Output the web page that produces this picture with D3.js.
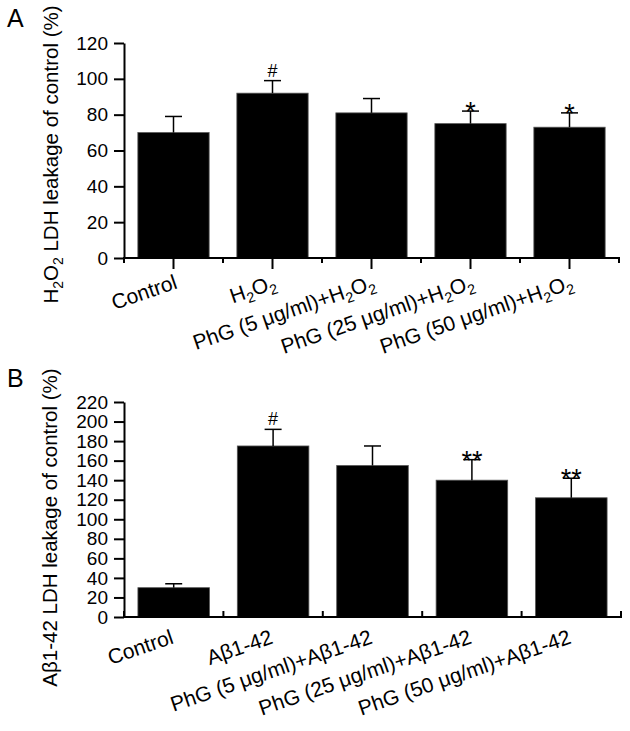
<!DOCTYPE html>
<html>
<head>
<meta charset="utf-8">
<script src="https://cdn.jsdelivr.net/npm/d3@7"></script>
<style>
  html, body { margin: 0; padding: 0; background: #fff; }
  svg { display: block; font-family: "Liberation Sans", Arial, sans-serif; }
</style>
</head>
<body>
<svg id="chart" width="630" height="731"></svg>
<script>
// ---------- Data ----------
const categoriesA = ["Control", "H_2O_2", "PhG (5 μg/ml)+H_2O_2", "PhG (25 μg/ml)+H_2O_2", "PhG (50 μg/ml)+H_2O_2"];
const meansA = [70, 92, 81, 75, 73];
const errTopA = [79, 99, 89, 82, 81];
const sigA = ["", "#", "", "*", "*"];
const ticksA = [0, 20, 40, 60, 80, 100, 120];
const titleA = "H_2O_2 LDH leakage of control (%)";

const categoriesB = ["Control", "Aβ1-42", "PhG (5 μg/ml)+Aβ1-42", "PhG (25 μg/ml)+Aβ1-42", "PhG (50 μg/ml)+Aβ1-42"];
const meansB = [30, 175, 155, 140, 122];
const errTopB = [34, 192, 175, 161, 142];
const sigB = ["", "#", "", "**", "**"];
const ticksB = [0, 20, 40, 60, 80, 100, 120, 140, 160, 180, 200, 220];
const titleB = "Aβ1-42 LDH leakage of control (%)";

const FONT = "Liberation Sans, Arial, sans-serif";
const svg = d3.select("#chart");

// rich text helper: "_2" -> subscript 2
function richText(textSel, str, subShift) {
  const parts = str.split(/(_\d)/).filter(s => s.length);
  let shifted = false;
  parts.forEach(p => {
    if (p.startsWith("_")) {
      textSel.append("tspan").attr("font-size", "68%").attr("dy", shifted ? 0 : subShift).text(p.slice(1));
      shifted = true;
    } else {
      textSel.append("tspan").attr("dy", shifted ? -subShift : 0).text(p);
      shifted = false;
    }
  });
}

function panel(cfg) {
  const g = svg.append("g").attr("font-family", FONT);
  const x = d3.scaleBand().domain(cfg.categories).range([124, cfg.xEnd]).paddingInner(0.28).paddingOuter(0.14);
  const y = d3.scaleLinear().domain([0, cfg.max]).range([cfg.y0, cfg.yTop]);

  // bars
  g.selectAll("rect.bar").data(cfg.means).join("rect")
    .attr("class", "bar")
    .attr("x", (d, i) => x(cfg.categories[i]))
    .attr("width", x.bandwidth())
    .attr("y", d => y(d))
    .attr("height", d => y(0) - y(d))
    .attr("fill", "#000")
    .attr("stroke", "#555").attr("stroke-width", 0.8);

  // error bars (upper)
  const cx = i => x(cfg.categories[i]) + x.bandwidth() / 2;
  g.selectAll("line.err").data(cfg.errTop).join("line")
    .attr("x1", (d, i) => cx(i)).attr("x2", (d, i) => cx(i))
    .attr("y1", (d, i) => y(cfg.means[i])).attr("y2", d => y(d))
    .attr("stroke", "#000").attr("stroke-width", 1.5);
  g.selectAll("line.cap").data(cfg.errTop).join("line")
    .attr("x1", (d, i) => cx(i) - 8.5).attr("x2", (d, i) => cx(i) + 8.5)
    .attr("y1", d => y(d)).attr("y2", d => y(d))
    .attr("stroke", "#000").attr("stroke-width", 1.5);

  // significance marks
  g.selectAll("text.sig").data(cfg.sig).join("text")
    .attr("x", (d, i) => cx(i))
    .attr("y", (d, i) => d === "#" ? y(cfg.errTop[i]) - 4 : y(cfg.errTop[i]) + 10)
    .attr("text-anchor", "middle")
    .attr("font-size", d => d === "#" ? 18 : 27)
    .text(d => d);

  // y axis
  const yAxis = d3.axisLeft(y).tickValues(cfg.ticks).tickSize(10).tickSizeOuter(0).tickPadding(6);
  const ya = g.append("g").attr("transform", "translate(124,0)").call(yAxis);
  ya.select(".domain").attr("stroke-width", 2);
  ya.selectAll(".tick line").attr("stroke-width", 2);
  ya.selectAll(".tick text").attr("font-size", 19).attr("font-family", FONT).attr("fill", "#000");

  // x axis line
  g.append("line").attr("x1", 123).attr("x2", cfg.xEnd + 1).attr("y1", y(0)).attr("y2", y(0))
    .attr("stroke", "#000").attr("stroke-width", 2);
  // boundary ticks
  const bounds = cfg.categories.map(c => x(c) - x.step() * 0.14).concat([cfg.xEnd]);
  g.selectAll("line.btick").data(bounds).join("line")
    .attr("x1", d => d).attr("x2", d => d)
    .attr("y1", y(0)).attr("y2", y(0) + cfg.boundTick)
    .attr("stroke", "#000").attr("stroke-width", 2);
  if (cfg.centerTick) {
    g.selectAll("line.ctick").data(cfg.categories).join("line")
      .attr("x1", (d, i) => cx(i)).attr("x2", (d, i) => cx(i))
      .attr("y1", y(0)).attr("y2", y(0) + cfg.centerTick)
      .attr("stroke", "#000").attr("stroke-width", 2);
  }

  // x labels
  cfg.categories.forEach((c, i) => {
    const t = g.append("text")
      .attr("transform", `translate(${cx(i) + cfg.labDx},${y(0) + cfg.labDy}) rotate(-19)`)
      .attr("text-anchor", "end").attr("font-size", 21);
    richText(t, c, 5);
  });

  // y title
  const tt = g.append("text")
    .attr("transform", `translate(${cfg.titleX},${(cfg.y0 + cfg.yTop) / 2 + cfg.titleDy}) rotate(-90)`)
    .attr("text-anchor", "middle").attr("font-size", 20.5);
  richText(tt, cfg.title, 5);

  // panel letter
  g.append("text").attr("x", 7).attr("y", cfg.letterY).attr("font-size", 25).text(cfg.letter);
}

panel({
  categories: categoriesA, means: meansA, errTop: errTopA, sig: sigA, ticks: ticksA, title: titleA,
  max: 120, y0: 258, yTop: 43, xEnd: 619, boundTick: 5, centerTick: 11,
  labDx: 5, labDy: 30, titleX: 58, titleDy: 4, letter: "A", letterY: 27
});
panel({
  categories: categoriesB, means: meansB, errTop: errTopB, sig: sigB, ticks: ticksB, title: titleB,
  max: 220, y0: 617, yTop: 402, xEnd: 621, boundTick: -6, centerTick: 0,
  labDx: 1, labDy: 26, titleX: 57, titleDy: 18, letter: "B", letterY: 387
});
</script>
</body>
</html>
